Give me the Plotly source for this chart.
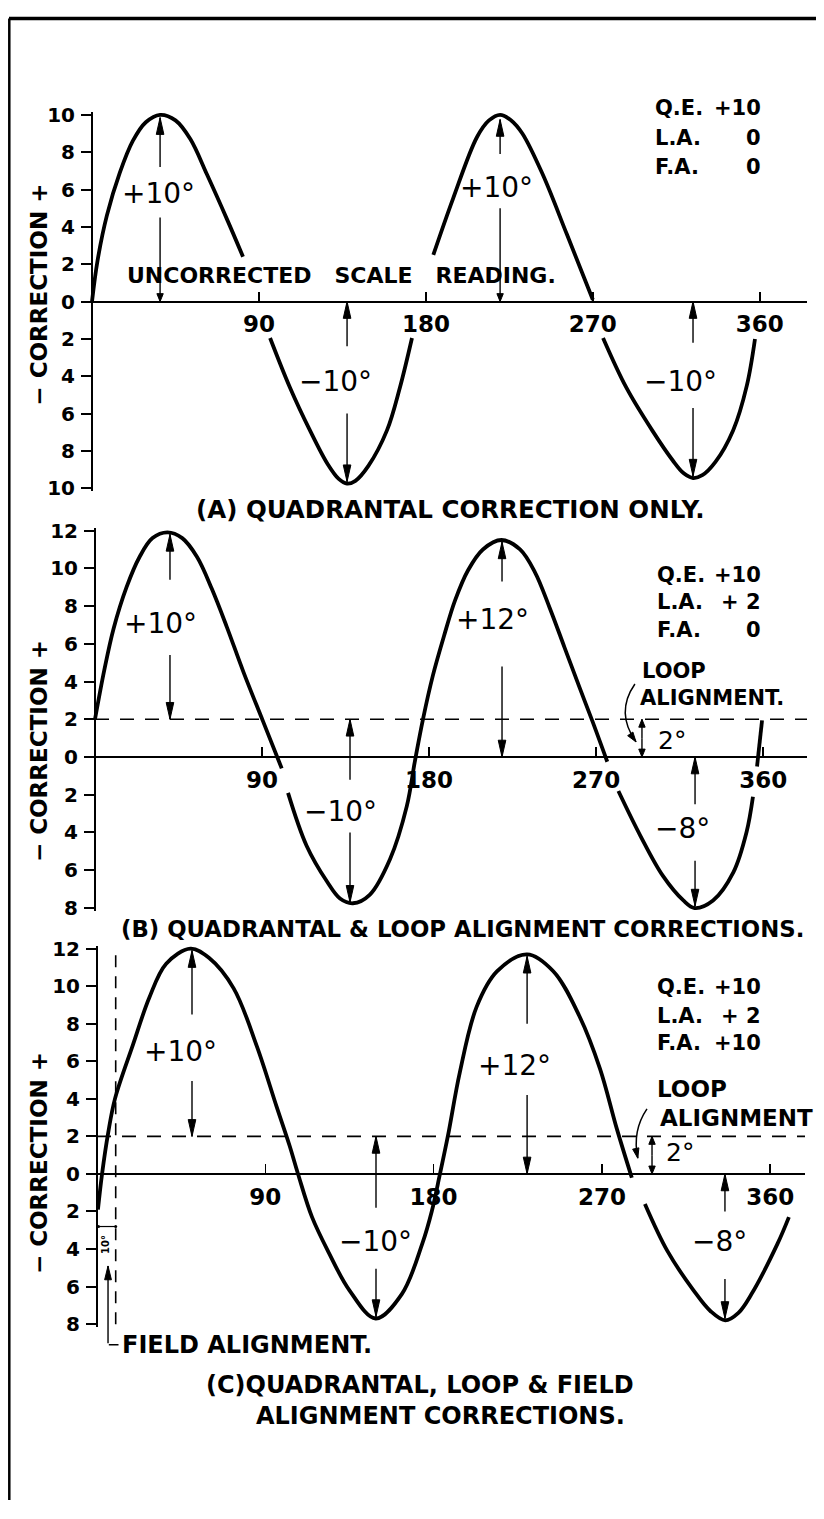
import math
import plotly.graph_objects as go

W, H = 824, 1519          # target picture
OFF = 8                   # default page margin around the plot div
FW, FH = W - 2 * OFF, H - 2 * OFF - 2
FONT = "DejaVu Sans, Verdana, sans-serif"
INK = "black"

# ---------------------------------------------------------------- data
y_ticks_a = [10, 8, 6, 4, 2, 0, -2, -4, -6, -8, -10]
y_ticks_bc = [12, 10, 8, 6, 4, 2, 0, -2, -4, -6, -8]
x_tick_vals = [90, 180, 270, 360]
x_tick_text = ["90", "180", "270", "360"]

setting_names = ["Q.E.", "L.A.", "F.A."]
settings_a = ["+10", "0", "0"]
settings_b = ["+10", "+ 2", "0"]
settings_c = ["+10", "+ 2", "+10"]
loop_alignment = 2      # degrees, panels B and C
field_alignment = 10    # degrees, panel C

# curve A : quadrantal correction only (None = where the drawing is broken)
deg_a = [0, 3, 8, 15, 22, 29, 36.7, 45, 53, 62, 72.8, 81.4, None,
         96, 106.7, 117.5, 127, 133, 137.5, 142, 149, 159, 166, 172.5, None,
         184, 194.6, 207.5, 214, 220, 226, 232, 243, 256, 270, None,
         275.5, 288, 302, 313, 319, 324, 329, 336, 345.6, 353, 357.4]
corr_a = [0, 2.2, 4.6, 6.9, 8.6, 9.6, 10, 9.7, 8.7, 6.8, 4.4, 2.4, None,
          -1.95, -4.6, -6.9, -8.7, -9.5, -9.75, -9.6, -8.8, -6.9, -4.6, -1.95, None,
          2.5, 5.5, 8.8, 9.7, 10, 9.7, 9.0, 6.8, 3.6, 0.1, None,
          -1.95, -4.6, -6.9, -8.5, -9.2, -9.45, -9.3, -8.6, -6.9, -4.5, -2.0]

# curve B : quadrantal + loop alignment
deg_b = [0, 5, 10, 17, 24, 31, 39, 47, 55, 63, 71, 80, 90.5, 100.6, None,
         104, 114, 125, 132, 139, 148, 159, 168, 172.4, 176.7, 182, 188, 194, 201,
         209, 219, 229, 237, 245, 253, 261, 268, 276, None,
         282, 294, 306, 317, 323, 333, 344, 351, 354.5, None,
         356.7, 359.4]
corr_b = [2.0, 4.6, 6.8, 9.0, 10.6, 11.6, 11.9, 11.6, 10.6, 8.9, 6.9, 4.5, 1.9, -0.6, None,
          -1.9, -4.7, -6.6, -7.5, -7.75, -7.3, -5.4, -2.6, -0.2, 2.0, 4.3, 6.4, 8.3, 9.9,
          11.0, 11.5, 11.0, 9.8, 7.9, 5.8, 3.7, 1.9, -0.25, None,
          -1.8, -4.2, -6.3, -7.6, -8.0, -7.6, -6.1, -4.0, -2.1, None,
          -0.5, 1.94]

# curve C : quadrantal + loop + field alignment
deg_c = [0.5, 2.7, 6, 9.6, 19.3, 28, 37, 50, 60, 73, 85.5, 96, 103, 107.5,
         115, 124, 135, 149, 163, 174, 179, 183.4, 187.7, 194, 203, 214, 230,
         244, 258, 269, 278, 286, None,
         293, 305, 319, 328, 336, 343, 350, 364, 370]
corr_c = [-1.9, 0, 2.2, 4.0, 6.9, 9.4, 11.2, 12.0, 11.5, 9.9, 6.8, 3.6, 1.5, 0,
          -2.3, -4.2, -6.2, -7.7, -6.4, -3.7, -2.0, 0, 2.05, 5.4, 8.9, 10.8, 11.7,
          10.8, 8.4, 5.6, 2.4, -0.2, None,
          -1.6, -4.1, -6.2, -7.3, -7.8, -7.4, -6.4, -3.7, -2.3]

# dimension arrows: x, tail, tip, large head?
arr_a_x = [36.7, 36.7, 220, 220, 137.5, 137.5, 324, 324]
arr_a_from = [7.2, 4.5, 7.9, 5.0, -2.4, -6.0, -2.2, -5.7]
arr_a_to = [9.85, 0, 9.75, 0, 0, -9.65, 0, -9.35]
arr_a_big = [1, 0, 1, 0, 1, 1, 1, 1]

arr_b_x = [40.4, 40.4, 219.3, 219.3, 137.4, 137.4, 323.3, 323.3, 294.7, 294.7]
arr_b_from = [9.4, 5.4, 9.3, 4.8, -1.2, -4.0, -2.5, -5.5, 1.0, 1.0]
arr_b_to = [11.8, 2.0, 11.4, 0, 2.0, -7.7, 0, -7.9, 2.0, 0]
arr_b_big = [1, 1, 1, 1, 1, 1, 1, 1, 0, 0]

arr_c_x = [50.8, 50.8, 230, 230, 149.2, 149.2, 335.8, 335.8, 296.8, 296.8]
arr_c_from = [8.5, 4.95, 8.0, 4.2, -1.8, -5.05, -2.0, -5.6, 1.0, 1.0]
arr_c_to = [11.9, 2.0, 11.6, 0, 2.0, -7.6, 0, -7.7, 2.0, 0]
arr_c_big = [1, 1, 1, 1, 1, 1, 1, 1, 0, 0]

# field alignment pointer (panel C)
field_ptr_x = 5.9
field_ptr_from = -9.1
field_ptr_to = -4.9
field_foot_x = 11.5
field_dim_y = -2.8

# curved loop-alignment pointers: start, control, end
loop_ptr_b = [(290.9, 3.87), (280.2, 2.36), (291.5, 0.8)]
loop_ptr_c = [(294.1, 3.47), (286.1, 2.3), (289.2, 0.84)]

# magnitude labels
lab_a_text = ["+10°", "+10°", "\u221210°", "\u221210°"]
lab_a_x = [36.0, 218.0, 131.5, 317.0]
lab_a_y = [5.8, 6.1, -4.3, -4.3]

lab_b_text = ["+10°", "+12°", "\u221210°", "\u22128°"]
lab_b_x = [35.5, 214.4, 132.5, 316.8]
lab_b_y = [7.1, 7.3, -2.9, -3.8]

lab_c_text = ["+10°", "+12°", "\u221210°", "\u22128°"]
lab_c_x = [44.4, 223.5, 148.7, 333.0]
lab_c_y = [6.5, 5.8, -3.6, -3.6]

captions = ["(A) QUADRANTAL CORRECTION ONLY.",
            "(B) QUADRANTAL & LOOP ALIGNMENT CORRECTIONS.",
            "(C)QUADRANTAL, LOOP & FIELD",
            "ALIGNMENT CORRECTIONS."]

# ---------------------------------------------------------------- geometry (target pixels)
GEOM = {
    "a": dict(x0=92, sx=1.855, y0=296, sy=18.9, ymin=-10, ymax=10, xr=807, n=""),
    "b": dict(x0=95, sx=1.856, y0=757, sy=19.1, ymin=-8, ymax=12, xr=807, n="2"),
    "c": dict(x0=97, sx=1.87, y0=1179, sy=19.0, ymin=-8, ymax=12, xr=805, n="3"),
}
PAD = 0.16


def pxp(px):
    return (px - OFF) / FW


def pyp(py):
    return 1 - (py - OFF) / FH


fig = go.Figure()
layout = dict(width=FW, height=FH, margin=dict(l=0, r=0, t=0, b=0),
              paper_bgcolor="white", plot_bgcolor="rgba(0,0,0,0)",
              showlegend=False, shapes=[], annotations=[])


def refs(g):
    return "x" + g["n"], "y" + g["n"]


def add_axes(g, yticks):
    n = g["n"]
    xl = g["x0"] - 10
    layout["xaxis" + n] = dict(
        domain=[pxp(xl), pxp(g["xr"])],
        range=[(xl - g["x0"]) / g["sx"], (g["xr"] - g["x0"]) / g["sx"]],
        anchor="free", position=pyp(g["y0"]),
        showline=True, linecolor=INK, linewidth=2,
        ticks="inside", ticklen=9, tickwidth=1.5, tickcolor=INK,
        tickvals=x_tick_vals, ticktext=x_tick_text,
        tickfont=dict(family=FONT, size=23, color=INK, weight="bold"),
        ticklabelstandoff=2,
        showgrid=False, zeroline=False, fixedrange=True)
    top = g["y0"] - (g["ymax"] + PAD) * g["sy"]
    bot = g["y0"] - (g["ymin"] - PAD) * g["sy"]
    layout["yaxis" + n] = dict(
        domain=[pyp(bot), pyp(top)],
        range=[g["ymin"] - PAD, g["ymax"] + PAD],
        anchor="free", position=pxp(g["x0"]),
        showline=True, linecolor=INK, linewidth=2,
        ticks="outside", ticklen=10, tickwidth=2, tickcolor=INK,
        tickvals=yticks, ticktext=[str(abs(v)) for v in yticks],
        tickfont=dict(family=FONT, size=20, color=INK, weight="bold"),
        ticklabelstandoff=2,
        showgrid=False, zeroline=False, fixedrange=True)


def head_poly(tx, ty, ux, uy, L, w, g):
    """arrow head polygon (data units), tip at (tx, ty), direction (ux, uy) in screen px (y up)."""
    m = math.hypot(ux, uy)
    ux, uy = ux / m, uy / m
    bx, by = -ux * L, -uy * L
    qx, qy = -uy * w, ux * w
    p1 = (tx + (bx + qx) / g["sx"], ty + (by + qy) / g["sy"])
    p2 = (tx + (bx - qx) / g["sx"], ty + (by - qy) / g["sy"])
    return [tx, p1[0], p2[0], tx, None], [ty, p1[1], p2[1], ty, None]


def add_arrows(g, xs, tails, tips, bigs):
    xr, yr = refs(g)
    sx_, sy_, hx, hy = [], [], [], []
    for x, f, t, big in zip(xs, tails, tips, bigs):
        L, w = (17, 3.8) if big else (8, 3.2)
        sx_ += [x, x, None]
        sy_ += [f, t, None]
        px, py = head_poly(x, t, 0, 1 if t > f else -1, L, w, g)
        hx += px
        hy += py
    fig.add_trace(go.Scatter(x=sx_, y=sy_, mode="lines", xaxis=xr, yaxis=yr,
                             line=dict(color=INK, width=1.4), hoverinfo="skip"))
    fig.add_trace(go.Scatter(x=hx, y=hy, mode="lines", fill="toself", fillcolor=INK,
                             xaxis=xr, yaxis=yr, line=dict(color=INK, width=1),
                             hoverinfo="skip"))


def add_curve(g, xs, ys):
    xr, yr = refs(g)
    fig.add_trace(go.Scatter(x=xs, y=ys, mode="lines", xaxis=xr, yaxis=yr,
                             line=dict(color=INK, width=3.8, shape="spline", smoothing=1.0),
                             connectgaps=False, hoverinfo="skip"))


def add_text(g, text, x, y, size, xanchor="center", weight="normal"):
    """text at data position; falls back to paper position when outside the axis range."""
    xr, yr = refs(g)
    font = dict(family=FONT, size=size, color=INK, weight=weight)
    if g["ymin"] - PAD <= y <= g["ymax"] + PAD:
        layout["annotations"].append(dict(xref=xr, yref=yr, x=x, y=y, text=text,
                                          showarrow=False, xanchor=xanchor,
                                          yanchor="middle", font=font))
    else:
        layout["annotations"].append(dict(
            xref="paper", yref="paper", x=pxp(g["x0"] + x * g["sx"]),
            y=pyp(g["y0"] - y * g["sy"]), text=text, showarrow=False,
            xanchor=xanchor, yanchor="middle", font=font))


def add_settings(g, values, xl, xr_val, ys, size):
    for name, val, yy in zip(setting_names, values, ys):
        add_text(g, name, xl, yy, size, xanchor="left", weight="bold")
        add_text(g, val, xr_val, yy, size, xanchor="right", weight="bold")


def add_loop_pointer(g, pts):
    xr, yr = refs(g)
    (x1, y1), (cx, cy), (x2, y2) = pts
    layout["shapes"].append(dict(type="path", xref=xr, yref=yr,
                                 path=f"M {x1},{y1} Q {cx},{cy} {x2},{y2}",
                                 line=dict(color=INK, width=1.5)))
    px, py = head_poly(x2, y2, (x2 - cx) * g["sx"], (y2 - cy) * g["sy"], 10, 3.2, g)
    fig.add_trace(go.Scatter(x=px, y=py, mode="lines", fill="toself", fillcolor=INK,
                             xaxis=xr, yaxis=yr, line=dict(color=INK, width=1),
                             hoverinfo="skip"))


def add_hdash(g, yv):
    xr, yr = refs(g)
    fig.add_trace(go.Scatter(x=[0, (g["xr"] - g["x0"]) / g["sx"]], y=[yv, yv],
                             mode="lines", xaxis=xr, yaxis=yr,
                             line=dict(color=INK, width=1.6, dash="14px,11px"),
                             hoverinfo="skip"))


ga, gb, gc = GEOM["a"], GEOM["b"], GEOM["c"]
add_axes(ga, y_ticks_a)
add_axes(gb, y_ticks_bc)
add_axes(gc, y_ticks_bc)

# ---- panel A
add_curve(ga, deg_a, corr_a)
add_arrows(ga, arr_a_x, arr_a_from, arr_a_to, arr_a_big)
for t, x, y in zip(lab_a_text, lab_a_x, lab_a_y):
    add_text(ga, t, x, y, 28)
add_text(ga, "UNCORRECTED\u00a0\u00a0\u00a0SCALE\u00a0\u00a0\u00a0READING.", 134.5, 1.4, 22,
         weight="bold")
add_settings(ga, settings_a, 302.5, 361.5, [10.37, 8.78, 7.2], 21)

# ---- panel B
add_hdash(gb, loop_alignment)
add_curve(gb, deg_b, corr_b)
add_arrows(gb, arr_b_x, arr_b_from, arr_b_to, arr_b_big)
for t, x, y in zip(lab_b_text, lab_b_x, lab_b_y):
    add_text(gb, t, x, y, 28)
add_settings(gb, settings_b, 301.7, 359.9, [9.63, 8.22, 6.75], 21)
add_text(gb, "LOOP", 293.6, 4.55, 21, xanchor="left", weight="bold")
add_text(gb, "ALIGNMENT.", 292.6, 3.14, 21, xanchor="left", weight="bold")
add_text(gb, "2°", 310.9, 0.9, 25)
add_loop_pointer(gb, loop_ptr_b)

# ---- panel C
add_hdash(gc, loop_alignment)
xr3, yr3 = refs(gc)
fig.add_trace(go.Scatter(x=[field_alignment, field_alignment], y=[-8, 12], mode="lines",
                         xaxis=xr3, yaxis=yr3,
                         line=dict(color=INK, width=1.6, dash="12px,9px"), hoverinfo="skip"))
add_curve(gc, deg_c, corr_c)
add_arrows(gc, arr_c_x, arr_c_from, arr_c_to, arr_c_big)
for t, x, y in zip(lab_c_text, lab_c_x, lab_c_y):
    add_text(gc, t, x, y, 28)
add_settings(gc, settings_c, 298.4, 356.1, [9.95, 8.42, 6.95], 21)
add_text(gc, "LOOP", 298.4, 4.53, 23, xanchor="left", weight="bold")
add_text(gc, "ALIGNMENT", 300.0, 3.0, 23, xanchor="left", weight="bold")
add_text(gc, "2°", 311.8, 1.16, 25)
add_loop_pointer(gc, loop_ptr_c)

# field alignment dimension and pointer
fig.add_trace(go.Scatter(x=[0.8, field_alignment], y=[field_dim_y, field_dim_y],
                         mode="lines+markers", xaxis=xr3, yaxis=yr3,
                         marker=dict(size=3, color=INK),
                         line=dict(color=INK, width=1.2), hoverinfo="skip"))
layout["annotations"].append(dict(
    xref=xr3, yref=yr3, x=4.6, y=-3.75, text="10°", textangle=-90, showarrow=False,
    font=dict(family=FONT, size=10, color=INK, weight="bold")))
layout["annotations"].append(dict(
    xref=xr3, yref=yr3, x=field_ptr_x, y=field_ptr_to, ax=field_ptr_x, ay=field_ptr_from,
    axref=xr3, ayref=yr3, text="", showarrow=True, arrowhead=0, arrowwidth=1.4,
    arrowcolor=INK, standoff=0, startstandoff=0))
layout["annotations"].append(dict(
    xref="paper", yref="paper",
    x=pxp(gc["x0"] + field_foot_x * gc["sx"]), y=pyp(gc["y0"] - field_ptr_from * gc["sy"]),
    ax=-(field_foot_x - field_ptr_x) * gc["sx"] - 0.7, ay=0,
    text="", showarrow=True, arrowhead=0, arrowwidth=1.4,
    arrowcolor=INK, standoff=0, startstandoff=0))
hx, hy = head_poly(field_ptr_x, field_ptr_to, 0, 1, 14, 3.4, gc)
fig.add_trace(go.Scatter(x=hx, y=hy, mode="lines", fill="toself", fillcolor=INK,
                         xaxis=xr3, yaxis=yr3, line=dict(color=INK, width=1),
                         hoverinfo="skip"))
add_text(gc, "FIELD ALIGNMENT.", 12.5, field_ptr_from, 24, xanchor="left", weight="bold")

# ---- axis titles and captions (paper)
for yc in (289, 751, 1168):
    layout["annotations"].append(dict(
        xref="paper", yref="paper", x=pxp(39), y=pyp(yc), text="\u2212 CORRECTION +",
        textangle=-90, showarrow=False, xanchor="center", yanchor="middle",
        font=dict(family=FONT, size=23, color=INK, weight="bold")))

cap_pos = [(450, 506), (463, 931), (420, 1393), (440, 1424)]
cap_size = [24.5, 22.8, 24, 24]
for txt, (cx, cy), fs in zip(captions, cap_pos, cap_size):
    layout["annotations"].append(dict(
        xref="paper", yref="paper", x=pxp(cx), y=pyp(cy), text=txt, showarrow=False,
        xanchor="center", yanchor="middle",
        font=dict(family=FONT, size=fs, color=INK, weight="bold")))

# ---- page frame
layout["shapes"].append(dict(type="line", xref="paper", yref="paper",
                             x0=pxp(9), x1=1.0, y0=pyp(9.5), y1=pyp(9.5),
                             line=dict(color=INK, width=3.5)))
layout["shapes"].append(dict(type="line", xref="paper", yref="paper",
                             x0=pxp(9.3), x1=pxp(9.3), y0=0, y1=pyp(9.5),
                             line=dict(color=INK, width=2.5)))

fig.update_layout(**layout)
fig.write_html("out.html", config={"displayModeBar": False, "staticPlot": True})
